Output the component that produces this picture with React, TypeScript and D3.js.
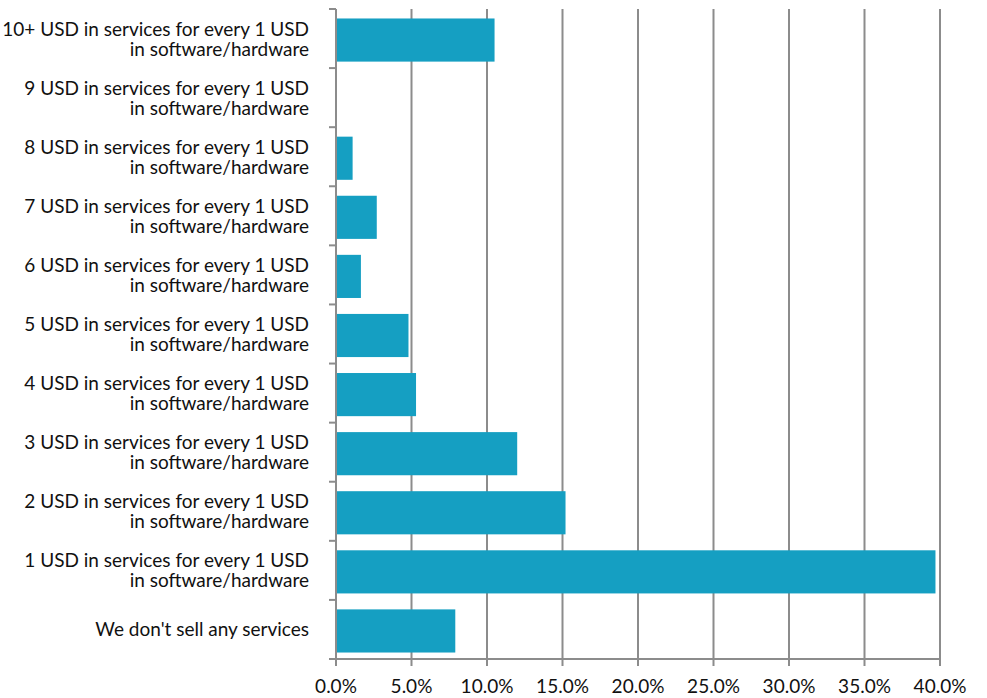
import React, { useEffect, useRef } from "react";
import * as d3 from "d3";

// categories top to bottom
const categories = [
  "10+ USD in services for every 1 USD|in software/hardware",
  "9 USD in services for every 1 USD|in software/hardware",
  "8 USD in services for every 1 USD|in software/hardware",
  "7 USD in services for every 1 USD|in software/hardware",
  "6 USD in services for every 1 USD|in software/hardware",
  "5 USD in services for every 1 USD|in software/hardware",
  "4 USD in services for every 1 USD|in software/hardware",
  "3 USD in services for every 1 USD|in software/hardware",
  "2 USD in services for every 1 USD|in software/hardware",
  "1 USD in services for every 1 USD|in software/hardware",
  "We don't sell any services",
];
const values = [10.5, 0, 1.1, 2.7, 1.65, 4.8, 5.3, 12.0, 15.2, 39.7, 7.9];
const xTicks = [0, 5, 10, 15, 20, 25, 30, 35, 40];

const App = () => {
  const svgRef = useRef<SVGSVGElement>(null);

  useEffect(() => {
    const width = 987,
      height = 698,
      margin = { top: 9, right: 47, bottom: 39, left: 336 };
    const font = "Lato, 'Open Sans', sans-serif";

    d3.select(svgRef.current).selectAll("*").remove();
    const svg = d3
      .select(svgRef.current)
      .attr("width", width)
      .attr("height", height)
      .style("position", "absolute")
      .style("left", "0px")
      .style("top", "0px");

    const x = d3
      .scaleLinear()
      .domain([0, 40])
      .range([margin.left, width - margin.right]);

    const y = d3
      .scaleBand()
      .domain(categories)
      .range([margin.top, height - margin.bottom])
      .paddingInner(0.27)
      .paddingOuter(0.135);

    // band boundaries for ticks on the category axis
    const step = y.step();
    const bounds = d3.range(categories.length + 1).map((i) => margin.top + i * step);
    const bottom = height - margin.bottom;

    // vertical gridlines
    svg
      .append("g")
      .selectAll("line")
      .data(xTicks.filter((d) => d > 0))
      .enter()
      .append("line")
      .attr("x1", (d) => x(d))
      .attr("x2", (d) => x(d))
      .attr("y1", margin.top)
      .attr("y2", bottom + 7)
      .attr("stroke", "#8c8c8c")
      .attr("stroke-width", 2);

    // bars (sit a little low in their band, as in the source)
    svg
      .append("g")
      .attr("transform", "translate(0, 1.5)")
      .selectAll("rect")
      .data(values)
      .enter()
      .append("rect")
      .attr("x", x(0) + 1)
      .attr("y", (d, i) => y(categories[i]) as number)
      .attr("width", (d) => Math.max(0, x(d) - x(0) - 1))
      .attr("height", y.bandwidth())
      .attr("fill", "#159fc2");

    // category axis line and ticks
    svg
      .append("line")
      .attr("x1", x(0))
      .attr("x2", x(0))
      .attr("y1", margin.top)
      .attr("y2", bottom + 7)
      .attr("stroke", "#8c8c8c")
      .attr("stroke-width", 2);

    svg
      .append("g")
      .selectAll("line")
      .data(bounds)
      .enter()
      .append("line")
      .attr("x1", x(0) - 7)
      .attr("x2", x(0))
      .attr("y1", (d) => d)
      .attr("y2", (d) => d)
      .attr("stroke", "#8c8c8c")
      .attr("stroke-width", 2);

    // bottom axis line
    svg
      .append("line")
      .attr("x1", x(0) - 7)
      .attr("x2", x(40) + 1)
      .attr("y1", bottom)
      .attr("y2", bottom)
      .attr("stroke", "#8c8c8c")
      .attr("stroke-width", 2);

    // x tick labels
    svg
      .append("g")
      .selectAll("text")
      .data(xTicks)
      .enter()
      .append("text")
      .attr("x", (d) => x(d))
      .attr("y", bottom + 34)
      .attr("text-anchor", "middle")
      .attr("font-family", font)
      .attr("font-size", 19)
      .attr("fill", "#111")
      .text((d) => d3.format(".1f")(d) + "%");

    // category labels
    const labels = svg
      .append("g")
      .selectAll("text")
      .data(categories)
      .enter()
      .append("text")
      .attr("text-anchor", "end")
      .attr("font-family", font)
      .attr("font-size", 19)
      .attr("fill", "#111")
      .attr("y", (d) => (y(d) as number) + y.bandwidth() / 2);

    labels.each(function (d) {
      const lines = d.split("|");
      const t = d3.select(this);
      const y0 = -((lines.length - 1) * 20) / 2 + 7;
      lines.forEach((ln, i) => {
        t.append("tspan")
          .attr("x", 309)
          .attr("dy", i === 0 ? y0 : 20)
          .text(ln);
      });
    });
  }, []);

  return <svg ref={svgRef}></svg>;
};

export default App;
